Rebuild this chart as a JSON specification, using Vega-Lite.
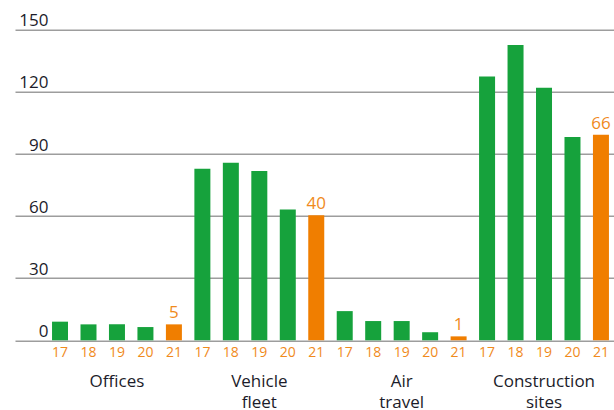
{
  "$schema": "https://vega.github.io/schema/vega-lite/v6.json",
  "width": 599,
  "height": 310.5,
  "autosize": {"type": "none"},
  "padding": {"left": 15, "top": 29.8, "right": 0, "bottom": 69.7},
  "background": "white",
  "config": {"view": {"stroke": null}, "font": "Open Sans"},
  "data": {
    "values": [
      {"group": "Offices", "year": "17", "key": "Offices 17", "value": 9.0, "hl": "no"},
      {"group": "Offices", "year": "18", "key": "Offices 18", "value": 7.7, "hl": "no"},
      {"group": "Offices", "year": "19", "key": "Offices 19", "value": 7.7, "hl": "no"},
      {"group": "Offices", "year": "20", "key": "Offices 20", "value": 6.4, "hl": "no"},
      {"group": "Offices", "year": "21", "key": "Offices 21", "value": 7.7, "hl": "yes", "label": "5"},
      {"group": "Vehicle fleet", "year": "17", "key": "Vehicle fleet 17", "value": 82.9, "hl": "no"},
      {"group": "Vehicle fleet", "year": "18", "key": "Vehicle fleet 18", "value": 85.8, "hl": "no"},
      {"group": "Vehicle fleet", "year": "19", "key": "Vehicle fleet 19", "value": 81.8, "hl": "no"},
      {"group": "Vehicle fleet", "year": "20", "key": "Vehicle fleet 20", "value": 63.2, "hl": "no"},
      {"group": "Vehicle fleet", "year": "21", "key": "Vehicle fleet 21", "value": 60.4, "hl": "yes", "label": "40"},
      {"group": "Air travel", "year": "17", "key": "Air travel 17", "value": 14.1, "hl": "no"},
      {"group": "Air travel", "year": "18", "key": "Air travel 18", "value": 9.3, "hl": "no"},
      {"group": "Air travel", "year": "19", "key": "Air travel 19", "value": 9.3, "hl": "no"},
      {"group": "Air travel", "year": "20", "key": "Air travel 20", "value": 3.9, "hl": "no"},
      {"group": "Air travel", "year": "21", "key": "Air travel 21", "value": 1.9, "hl": "yes", "label": "1"},
      {"group": "Construction sites", "year": "17", "key": "Construction sites 17", "value": 127.4, "hl": "no"},
      {"group": "Construction sites", "year": "18", "key": "Construction sites 18", "value": 142.7, "hl": "no"},
      {"group": "Construction sites", "year": "19", "key": "Construction sites 19", "value": 122.0, "hl": "no"},
      {"group": "Construction sites", "year": "20", "key": "Construction sites 20", "value": 98.2, "hl": "no"},
      {"group": "Construction sites", "year": "21", "key": "Construction sites 21", "value": 99.3, "hl": "yes", "label": "66"}
    ]
  },
  "encoding": {
    "x": {
      "field": "key",
      "type": "nominal",
      "scale": {
        "domain": ["Offices 17", "Offices 18", "Offices 19", "Offices 20", "Offices 21",
                   "Vehicle fleet 17", "Vehicle fleet 18", "Vehicle fleet 19", "Vehicle fleet 20", "Vehicle fleet 21",
                   "Air travel 17", "Air travel 18", "Air travel 19", "Air travel 20", "Air travel 21",
                   "Construction sites 17", "Construction sites 18", "Construction sites 19", "Construction sites 20", "Construction sites 21"],
        "paddingInner": 0.438,
        "paddingOuter": 0.739,
        "align": 0.88
      },
      "axis": {
        "title": null,
        "labelExpr": "slice(datum.value, -2)",
        "labelAngle": 0,
        "labelColor": "#F08A1C",
        "labelFontSize": 14,
        "labelPadding": 5,
        "ticks": false,
        "tickSize": 0,
        "domain": false,
        "grid": false
      }
    }
  },
  "layer": [
    {
      "mark": {"type": "bar"},
      "encoding": {
        "y": {
          "field": "value",
          "type": "quantitative",
          "scale": {"domain": [0, 150], "nice": false},
          "axis": {
            "title": null,
            "values": [0, 30, 60, 90, 120, 150],
            "grid": true,
            "gridColor": "#9d9d9d",
            "gridWidth": 1.5,
            "domain": false,
            "ticks": false,
            "tickSize": 0,
            "labelAlign": "right",
            "labelBaseline": "bottom",
            "labelFlush": false,
            "labelPadding": -33,
            "labelFontSize": 17,
            "labelColor": "#1c1c2a"
          }
        },
        "color": {
          "field": "hl",
          "type": "nominal",
          "scale": {"domain": ["no", "yes"], "range": ["#16A23C", "#F07E00"]},
          "legend": null
        }
      }
    },
    {
      "transform": [{"filter": "isValid(datum.label)"}],
      "mark": {"type": "text", "baseline": "bottom", "dy": -2, "fontSize": 17, "color": "#F08A1C"},
      "encoding": {
        "y": {"field": "value", "type": "quantitative"},
        "text": {"field": "label"}
      }
    },
    {
      "data": {
        "values": [
          {"key": "Offices 19", "name": "Offices"},
          {"key": "Vehicle fleet 19", "name": "Vehicle\nfleet"},
          {"key": "Air travel 19", "name": "Air\ntravel"},
          {"key": "Construction sites 19", "name": "Construction\nsites"}
        ]
      },
      "mark": {"type": "text", "baseline": "top", "dy": 34, "fontSize": 17, "lineHeight": 21, "lineBreak": "\n", "color": "#1c1c2a"},
      "encoding": {
        "y": {"datum": 0},
        "text": {"field": "name"}
      }
    }
  ]
}
